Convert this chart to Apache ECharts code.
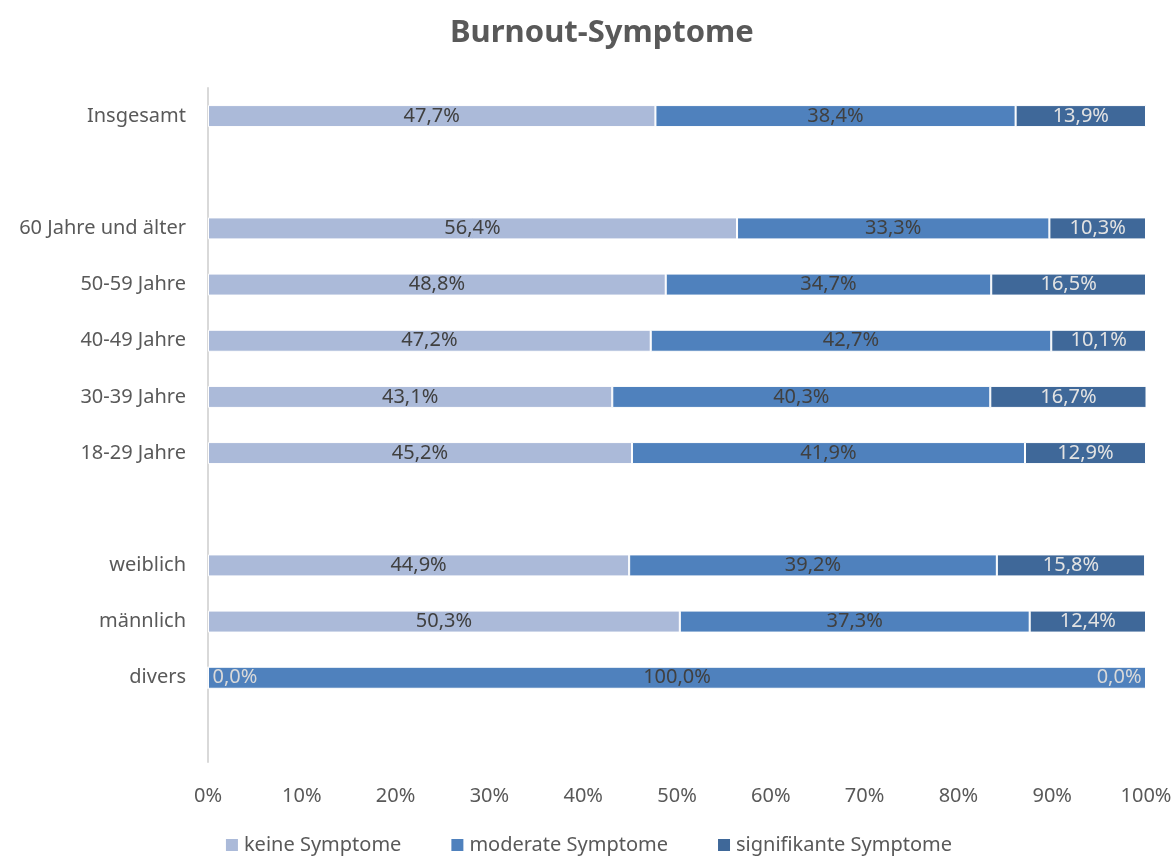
<!DOCTYPE html>
<html>
<head>
<meta charset="utf-8">
<script src="https://cdn.jsdelivr.net/npm/echarts@6/dist/echarts.min.js"></script>
<style>
  html, body { margin: 0; padding: 0; background: #fff; }
  #chart { width: 1176px; height: 856px; }
</style>
</head>
<body>
<div id="chart"></div>
<script>
// Kategorien von unten nach oben (leere Einträge = Abstand)
const categories = ['', 'divers', 'männlich', 'weiblich', ' ', '18-29 Jahre', '30-39 Jahre', '40-49 Jahre', '50-59 Jahre', '60 Jahre und älter', '  ', 'Insgesamt'];
const keine = [null, 0.0, 50.3, 44.9, null, 45.2, 43.1, 47.2, 48.8, 56.4, null, 47.7];
const moderat = [null, 100.0, 37.3, 39.2, null, 41.9, 40.3, 42.7, 34.7, 33.3, null, 38.4];
const signifikant = [null, 0.0, 12.4, 15.8, null, 12.9, 16.7, 10.1, 16.5, 10.3, null, 13.9];
const xTicks = [0, 10, 20, 30, 40, 50, 60, 70, 80, 90, 100];

const font = 'Noto Sans';
const fmt = v => v.toFixed(1).replace('.', ',') + '%';

const chart = echarts.init(document.getElementById('chart'));

// Nullwerte bekommen das Label neben dem Balken (wie in Excel)
const mkData = (arr, zeroPos) => arr.map(v => {
  if (v === 0) {
    return {
      value: v,
      label: { position: zeroPos, distance: 5, color: '#d9d9d9' }
    };
  }
  return v;
});

const baseSeries = (name, data, color, labelColor, zeroPos) => ({
  name: name,
  type: 'bar',
  stack: 'total',
  barWidth: 22,
  data: mkData(data, zeroPos),
  itemStyle: { color: color, borderColor: '#fff', borderWidth: 1 },
  label: {
    show: true,
    position: 'inside',
    color: labelColor,
    fontFamily: font,
    fontSize: 20,
    formatter: p => fmt(p.value)
  },
  emphasis: { disabled: true }
});

let options = {
  animation: false,
  title: {
    text: 'Burnout-Symptome',
    left: 445,
    top: 13,
    textStyle: { color: '#595959', fontFamily: font, fontSize: 31, fontWeight: 'bold' }
  },
  grid: { left: 208, right: 30, top: 88, bottom: 94 },
  legend: {
    bottom: -4,
    left: 'center',
    itemWidth: 14,
    itemHeight: 14,
    itemGap: 48,
    icon: 'rect',
    textStyle: { color: '#595959', fontFamily: font, fontSize: 20 },
    data: ['keine Symptome', 'moderate Symptome', 'signifikante Symptome']
  },
  xAxis: {
    type: 'value',
    min: xTicks[0],
    max: xTicks[xTicks.length - 1],
    interval: 10,
    splitLine: { show: false },
    axisLine: { show: false },
    axisTick: { show: false },
    axisLabel: {
      color: '#595959',
      fontFamily: font,
      fontSize: 20,
      margin: 24,
      formatter: v => v + '%'
    }
  },
  yAxis: {
    type: 'category',
    data: categories,
    axisLine: { show: true, lineStyle: { color: '#d9d9d9', width: 2 } },
    axisTick: { show: false },
    axisLabel: { color: '#595959', fontFamily: font, fontSize: 20, margin: 22 }
  },
  series: [
    baseSeries('keine Symptome', keine, '#abbad9', '#404040', 'insideLeft'),
    baseSeries('moderate Symptome', moderat, '#4f81bd', '#404040', 'inside'),
    baseSeries('signifikante Symptome', signifikant, '#3f6899', '#e3e3e3', 'insideRight')
  ]
};

chart.setOption(options);
</script>
</body>
</html>
